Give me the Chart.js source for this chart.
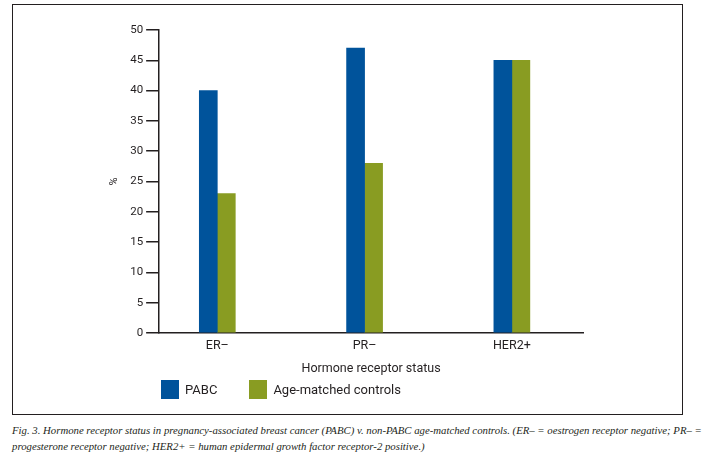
<!DOCTYPE html>
<html>
<head>
<meta charset="utf-8">
<script src="https://cdn.jsdelivr.net/npm/chart.js@4/dist/chart.umd.min.js"></script>
<style>
  html, body { margin: 0; padding: 0; background: #fff; }
  body { width: 707px; height: 458px; position: relative; overflow: hidden; }
  #frame { position: absolute; left: 12px; top: 4px; width: 669px; height: 409px;
           border: 1.3px solid #231f20; }
  #chart { position: absolute; left: 0; top: 0; }
  #legend { position: absolute; left: 148px; top: 375px; display: flex;
            font: 13px Roboto, "Liberation Sans", sans-serif; color: #231f20; }
  #legend .item { display: flex; align-items: center; margin-right: 32px; }
  #legend .box { width: 18px; height: 19px; margin-right: 6px; }
  #caption { position: absolute; left: 12px; top: 422px; width: 700px;
             font: italic 10.75px "Liberation Serif", "DejaVu Serif", serif;
             line-height: 16px; color: #231f20; white-space: nowrap; }
</style>
</head>
<body>
<div id="frame">
  <canvas id="chart" width="669" height="409"></canvas>
  <div id="legend"></div>
</div>
<div id="caption">Fig. 3. Hormone receptor status in pregnancy-associated breast cancer (PABC) v. non-PABC age-matched controls. (ER– = oestrogen receptor negative; PR– =<br>progesterone receptor negative; HER2+ = human epidermal growth factor receptor-2 positive.)</div>
<script>
var categories = ['ER–', 'PR–', 'HER2+'];
var pabc = [40, 47, 45];
var controls = [23, 28, 45];
var yTicks = [0, 50, 5];        // min, max, step
var xRange = [-0.395, 2.483];   // category axis extent

var FONT = 'Roboto, "Liberation Sans", sans-serif';
var INK = '#231f20';

// html legend, built from chart's own legend items
var htmlLegend = {
    id: 'htmlLegend',
    afterUpdate: function(chart) {
        var el = document.getElementById('legend');
        el.innerHTML = '';
        var items = chart.options.plugins.legend.labels.generateLabels(chart);
        items.forEach(function(it) {
            var d = document.createElement('div');
            d.className = 'item';
            var b = document.createElement('span');
            b.className = 'box';
            b.style.background = it.fillStyle;
            var t = document.createElement('span');
            t.textContent = it.text;
            d.appendChild(b);
            d.appendChild(t);
            el.appendChild(d);
        });
    }
};

var toPoints = function(arr) {
    return arr.map(function(v, i) { return {x: i, y: v}; });
};

window.onload = function() {
    var ctx = document.getElementById('chart').getContext('2d');
    window.myBar = new Chart(ctx, {
        type: 'bar',
        data: {
            datasets: [
                { label: 'PABC', data: toPoints(pabc),
                  backgroundColor: '#00539b', barThickness: 18 },
                { label: 'Age-matched controls', data: toPoints(controls),
                  backgroundColor: '#899c22', barThickness: 18 }
            ]
        },
        options: {
            responsive: false,
            animation: false,
            layout: { padding: { left: 95, right: 99, top: 25, bottom: 38 } },
            plugins: {
                legend: { display: false },
                tooltip: { enabled: false }
            },
            scales: {
                x: {
                    type: 'linear',
                    offset: false,
                    min: xRange[0],
                    max: xRange[1],
                    afterBuildTicks: function(scale) {
                        scale.ticks = categories.map(function(c, i) { return {value: i}; });
                    },
                    ticks: {
                        callback: function(v) { return categories[v]; },
                        color: INK, padding: 5,
                        font: { family: FONT, size: 12.5 }
                    },
                    grid: { display: false, drawTicks: false },
                    border: { display: true, color: INK, width: 1.5 },
                    title: {
                        display: true, text: 'Hormone receptor status', color: INK,
                        font: { family: FONT, size: 12.5 },
                        padding: { top: 3, bottom: 0 }
                    }
                },
                y: {
                    min: yTicks[0],
                    max: yTicks[1],
                    ticks: { stepSize: yTicks[2], color: INK, padding: 3,
                             font: { family: FONT, size: 11.5 } },
                    grid: { drawOnChartArea: false, drawTicks: true, tickLength: 13,
                            color: INK, lineWidth: 1.5 },
                    border: { display: true, color: INK, width: 1.5 },
                    title: {
                        display: true, text: '%', color: INK,
                        font: { family: FONT, size: 11 },
                        padding: { top: 0, bottom: 6 }
                    }
                }
            }
        },
        plugins: [htmlLegend]
    });
};
</script>
</body>
</html>
